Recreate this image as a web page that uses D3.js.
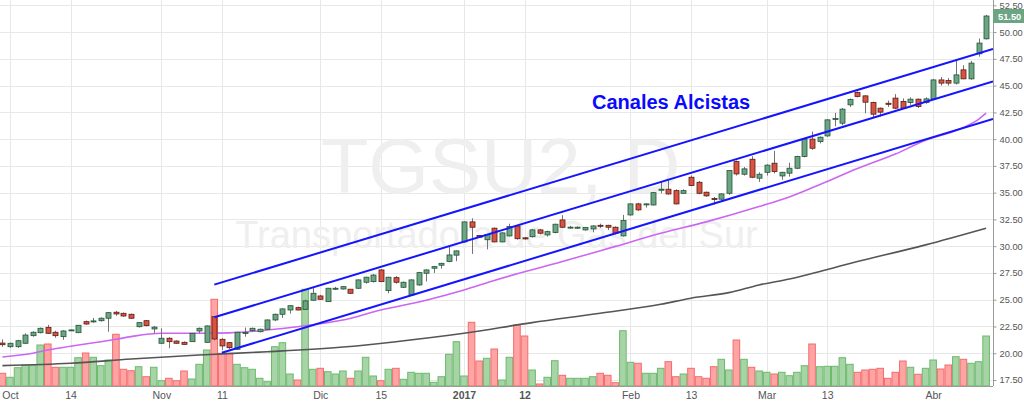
<!DOCTYPE html>
<html>
<head>
<meta charset="utf-8">
<script src="https://cdn.jsdelivr.net/npm/d3@7"></script>
<style>
  html, body { margin: 0; padding: 0; background: #ffffff; }
  svg { display: block; }
</style>
</head>
<body>
<svg id="chart" width="1024" height="402"></svg>
<script>
// ---------------- DATA ----------------
const dates = [
"2016-09-30",
"2016-10-03","2016-10-04","2016-10-05","2016-10-06","2016-10-07","2016-10-11","2016-10-12","2016-10-13","2016-10-14",
"2016-10-17","2016-10-18","2016-10-19","2016-10-20","2016-10-21","2016-10-24","2016-10-25","2016-10-26","2016-10-27","2016-10-28","2016-10-31",
"2016-11-01","2016-11-02","2016-11-03","2016-11-04","2016-11-07","2016-11-08","2016-11-09","2016-11-10","2016-11-11",
"2016-11-14","2016-11-15","2016-11-16","2016-11-17","2016-11-18","2016-11-21","2016-11-22","2016-11-23","2016-11-24","2016-11-25","2016-11-29","2016-11-30",
"2016-12-01","2016-12-02","2016-12-05","2016-12-06","2016-12-07","2016-12-12","2016-12-13","2016-12-14","2016-12-15","2016-12-16",
"2016-12-19","2016-12-20","2016-12-21","2016-12-22","2016-12-23","2016-12-27","2016-12-28","2016-12-29","2016-12-30",
"2017-01-02","2017-01-03","2017-01-04","2017-01-05","2017-01-06","2017-01-09","2017-01-10","2017-01-11","2017-01-12","2017-01-13",
"2017-01-16","2017-01-17","2017-01-18","2017-01-19","2017-01-20","2017-01-23","2017-01-24","2017-01-25","2017-01-26","2017-01-27","2017-01-30","2017-01-31",
"2017-02-01","2017-02-02","2017-02-03","2017-02-06","2017-02-07","2017-02-08","2017-02-09","2017-02-10","2017-02-13","2017-02-14","2017-02-15","2017-02-16","2017-02-17",
"2017-02-20","2017-02-21","2017-02-22","2017-02-23","2017-02-24",
"2017-03-01","2017-03-02","2017-03-03","2017-03-06","2017-03-07","2017-03-08","2017-03-09","2017-03-10","2017-03-13","2017-03-14","2017-03-15","2017-03-16","2017-03-17",
"2017-03-20","2017-03-21","2017-03-22","2017-03-23","2017-03-27","2017-03-28","2017-03-29","2017-03-30","2017-03-31",
"2017-04-03","2017-04-04","2017-04-05","2017-04-06","2017-04-07","2017-04-10","2017-04-11","2017-04-12"
];

const open = [
20.95,
20.61,20.61,20.93,21.64,21.92,22.42,21.96,21.55,22.15,
21.92,22.95,22.98,23.04,23.27,23.83,23.73,23.64,22.48,23.04,22.27,
20.93,21.40,21.14,21.02,21.08,22.08,21.02,23.42,21.30,
20.99,20.37,21.90,22.11,22.01,22.24,23.11,23.64,24.04,24.26,24.10,24.95,
25.35,24.82,26.05,26.00,25.98,26.07,26.63,26.69,27.78,25.85,
27.06,26.16,25.44,26.38,27.47,27.94,28.22,28.56,29.16,
30.40,32.27,30.99,30.60,31.68,30.40,30.96,31.89,30.78,30.89,
31.52,31.05,31.27,32.45,31.75,31.74,31.52,31.61,31.95,31.95,31.77,30.96,
32.92,33.95,33.90,33.85,35.30,35.32,35.19,34.94,36.44,35.97,35.04,34.45,34.39,
34.94,37.90,36.72,38.12,36.35,
36.90,37.75,36.56,36.82,37.28,38.37,40.00,39.77,40.30,41.88,41.49,43.20,44.35,
44.04,43.42,42.89,43.35,43.83,43.51,43.42,43.73,43.42,
43.76,45.53,45.47,45.23,46.47,45.63,47.97,49.37
];
const high = [
21.30,
21.00,21.25,21.85,22.05,22.40,22.65,22.10,22.15,22.20,
22.65,23.05,23.30,23.35,23.85,23.95,23.80,23.70,22.90,23.10,22.55,
22.33,21.50,21.20,21.10,21.90,22.40,22.60,23.45,21.40,
21.05,22.00,22.40,22.40,22.30,23.15,23.70,24.20,24.50,24.35,25.00,26.20,
25.45,26.10,26.20,26.25,26.00,26.90,27.15,27.40,27.85,27.15,
27.20,26.70,26.90,27.60,27.85,28.15,28.45,29.96,29.60,
32.30,32.60,31.05,31.15,31.75,31.30,32.10,32.00,30.85,31.60,
31.60,31.45,32.10,32.90,31.90,31.85,31.80,31.95,32.10,32.00,31.85,32.92,
34.00,34.05,34.00,35.05,36.03,36.19,35.30,35.30,36.60,36.10,35.10,34.60,34.95,
37.10,38.00,37.40,38.40,36.90,
37.65,38.90,36.95,37.80,38.45,40.10,40.70,40.25,41.85,42.45,42.90,43.80,44.45,
44.10,43.50,42.95,43.60,44.20,43.80,43.90,43.80,43.90,
45.60,45.80,45.70,47.40,46.90,47.30,49.40,51.60
];
const low = [
20.60,
20.50,20.50,20.85,21.55,21.85,21.80,21.45,21.25,22.10,
21.90,22.65,22.85,22.95,22.01,23.50,23.40,23.20,22.40,22.50,21.86,
20.85,20.46,20.90,20.80,21.05,21.86,21.00,21.20,20.30,
20.40,20.30,21.55,22.00,21.95,22.20,23.00,23.30,23.70,24.00,24.05,24.90,
25.00,24.80,25.90,25.95,25.55,26.00,26.50,26.60,26.65,25.60,
26.50,26.10,25.40,26.30,26.70,27.50,27.90,28.50,28.60,
30.30,29.28,30.80,29.70,30.35,30.35,30.90,30.60,30.60,30.80,
31.10,30.90,31.20,31.70,31.65,31.65,31.45,31.30,31.70,31.50,31.10,30.90,
32.85,33.30,33.60,33.80,34.94,34.80,33.90,34.90,35.60,34.85,34.60,33.90,34.30,
34.80,36.60,36.60,36.35,36.00,
36.60,36.80,36.20,36.50,37.20,38.30,39.00,39.60,40.20,41.20,41.30,43.00,43.90,
42.42,42.00,42.10,43.00,42.80,42.85,43.20,42.90,43.30,
43.70,45.00,45.00,45.10,45.60,45.55,47.70,49.30
];
const close = [
20.80,
20.93,21.17,21.70,21.96,22.33,21.86,21.64,22.08,22.18,
22.61,22.73,23.02,23.27,23.79,23.67,23.48,23.27,22.86,22.58,22.44,
21.40,21.08,20.93,20.83,21.86,22.33,22.55,21.33,20.68,
20.52,21.96,21.94,22.33,22.24,23.11,23.64,24.14,24.44,24.04,24.89,25.60,
25.04,26.07,26.07,26.22,25.60,26.85,27.10,27.30,26.69,27.10,
26.63,26.63,26.85,27.53,27.78,28.09,28.40,29.18,29.56,
32.27,31.77,30.84,31.10,30.40,31.24,31.83,30.70,30.68,31.52,
31.21,31.36,32.05,31.77,31.78,31.77,31.74,31.89,31.86,31.77,31.21,32.39,
33.95,33.39,33.95,35.00,35.32,34.88,33.95,35.19,35.66,34.94,34.70,34.40,34.88,
37.06,36.75,37.22,36.44,36.72,
37.57,36.97,36.90,37.28,38.37,40.00,39.15,40.18,41.80,41.92,42.80,43.70,43.98,
43.45,42.33,42.52,43.25,42.89,42.89,43.73,43.04,43.76,
45.53,45.23,45.23,46.00,45.63,47.10,48.97,51.50
];
const volume = [
127,
87,183,210,210,410,420,187,187,187,
283,330,287,203,260,517,167,153,193,93,187,
53,77,53,150,70,217,360,867,327,
327,217,183,167,77,43,393,433,120,60,967,167,
177,143,120,150,77,150,287,100,53,167,
177,67,137,127,127,37,93,317,443,
100,637,250,277,370,60,287,610,500,160,
20,87,253,107,77,77,77,93,127,107,33,553,
237,227,127,127,177,243,93,120,177,93,77,193,267,
160,460,267,187,150,
137,120,137,103,137,203,420,193,197,197,283,217,137,
160,167,177,77,137,250,187,117,177,
260,170,210,293,267,227,243,500
];

// moving averages (date, value)
const maFastDates = ["2016-09-30","2016-10-06","2016-10-11","2016-10-14","2016-10-20","2016-10-24","2016-10-26","2016-11-01","2016-11-08","2016-11-14","2016-11-21","2016-11-25","2016-12-06","2016-12-15","2016-12-23","2017-01-02","2017-01-06","2017-01-19","2017-01-30","2017-02-07","2017-02-15","2017-02-24","2017-03-06","2017-03-13","2017-03-17","2017-03-27","2017-03-31","2017-04-06","2017-04-11","2017-04-12"];
const maFastValues = [19.65,20.00,20.30,20.65,21.08,21.30,21.55,21.86,21.86,21.90,22.17,22.48,23.10,24.04,24.95,25.90,26.80,28.56,29.98,31.20,32.27,33.70,34.60,36.05,37.25,38.60,39.90,40.80,41.85,42.42];
const maSlowDates = ["2016-09-30","2016-10-14","2016-10-26","2016-11-08","2016-11-21","2016-12-06","2016-12-19","2017-01-02","2017-01-13","2017-01-26","2017-02-07","2017-02-13","2017-02-20","2017-02-24","2017-03-06","2017-03-17","2017-03-31","2017-04-12"];
const maSlowValues = [18.84,19.06,19.46,19.84,20.14,20.58,21.08,21.86,22.86,23.73,24.57,25.14,25.66,26.38,26.94,28.56,30.12,31.68];

// channel lines (anchor date, price) -> extended to the right edge
const channelStartDates = ["2016-11-10","2016-11-10","2016-11-11"];
const channelStartPrices = [26.41, 23.36, 20.05];
const channelEndDates = ["2017-04-12","2017-04-12","2017-04-12"];
const channelEndPrices = [48.23, 45.19, 41.69];

const xTickDates = ["2016-10-03","2016-10-14","2016-11-01","2016-11-11","2016-12-01","2016-12-15","2017-01-02","2017-01-12","2017-02-01","2017-02-13","2017-03-01","2017-03-13","2017-04-03"];
const xTickLabels = ["Oct","14","Nov","11","Dic","15","2017","12","Feb","13","Mar","13","Abr"];
const yTicks = [17.5,20,22.5,25,27.5,30,32.5,35,37.5,40,42.5,45,47.5,50,52.5];
const lastPrice = 51.50;
const title = "TGSU2, D";
const subtitle = "Transportadora de Gas del Sur";
const annotation = "Canales Alcistas";

// ---------------- DRAW ----------------
const svg = d3.select("#chart");
const W = 1024, H = 402;
const plotR = 993, plotB = 386;

svg.append("rect").attr("width", W).attr("height", H).attr("fill", "#ffffff");

const x = d3.scalePoint().domain(dates).range([2.4, 986.1]);
const y = d3.scaleLinear().domain([17.5, 52.5]).range([380, 5.3]);
const yv = d3.scaleLinear().domain([0, 1000]).range([plotB, plotB - 100]);
const step = x.step();

const plot = svg.append("g");
plot.append("clipPath").attr("id", "clip").append("rect").attr("x", 0).attr("y", 0).attr("width", plotR).attr("height", plotB);

// grid
const grid = plot.append("g");
grid.selectAll("line.h").data(yTicks).join("line")
  .attr("x1", 0).attr("x2", plotR)
  .attr("y1", d => Math.round(y(d)) + 0.5).attr("y2", d => Math.round(y(d)) + 0.5)
  .attr("stroke", "#e8e8e8").attr("stroke-width", 1);
grid.selectAll("line.v").data(xTickDates).join("line")
  .attr("x1", d => Math.round(x(d)) + 0.5).attr("x2", d => Math.round(x(d)) + 0.5)
  .attr("y1", 0).attr("y2", plotB)
  .attr("stroke", "#e8e8e8").attr("stroke-width", 1);

// watermark
plot.append("text").text(title)
  .attr("x", plotR / 2 + 4).attr("y", 193)
  .attr("text-anchor", "middle")
  .attr("font-family", "Liberation Sans, Arial, sans-serif")
  .attr("font-size", 78).attr("fill", "#efefef");
plot.append("text").text(subtitle)
  .attr("x", plotR / 2).attr("y", 248)
  .attr("text-anchor", "middle")
  .attr("font-family", "Liberation Sans, Arial, sans-serif")
  .attr("font-size", 38).attr("fill", "#efefef");

const idx = d3.range(dates.length);
const up = i => close[i] >= open[i];

// volume
const gv = plot.append("g").attr("clip-path", "url(#clip)");
gv.selectAll("rect").data(idx).join("rect")
  .attr("x", i => x(dates[i]) - step / 2 + 0.5)
  .attr("width", step - 1)
  .attr("y", i => yv(volume[i]))
  .attr("height", i => plotB - yv(volume[i]))
  .attr("fill", i => up(i) ? "#a6d4a6" : "#ffa4a4")
  .attr("stroke", i => up(i) ? "#6dba6d" : "#f56b6b")
  .attr("stroke-width", 1);

// moving averages
const gm = plot.append("g").attr("clip-path", "url(#clip)");
const lineGen = d3.line().x(d => x(d[0])).y(d => y(d[1])).curve(d3.curveMonotoneX);
gm.append("path").datum(maSlowDates.map((d, i) => [d, maSlowValues[i]]))
  .attr("d", lineGen).attr("fill", "none").attr("stroke", "#555555").attr("stroke-width", 1.6);
gm.append("path").datum(maFastDates.map((d, i) => [d, maFastValues[i]]))
  .attr("d", lineGen).attr("fill", "none").attr("stroke", "#cc66f2").attr("stroke-width", 1.6);

// candles
const gc = plot.append("g").attr("clip-path", "url(#clip)");
gc.selectAll("line").data(idx).join("line")
  .attr("x1", i => Math.round(x(dates[i])) + 0.5).attr("x2", i => Math.round(x(dates[i])) + 0.5)
  .attr("y1", i => y(high[i])).attr("y2", i => y(low[i]))
  .attr("stroke", "#737373").attr("stroke-width", 1);
gc.selectAll("rect").data(idx).join("rect")
  .attr("x", i => Math.round(x(dates[i])) - 2)
  .attr("width", 5)
  .attr("y", i => y(Math.max(open[i], close[i])))
  .attr("height", i => Math.max(1, Math.abs(y(open[i]) - y(close[i]))))
  .attr("fill", i => up(i) ? "#6ba583" : "#d75442")
  .attr("stroke", i => up(i) ? "#225437" : "#5b1a13")
  .attr("stroke-width", 0.8);

// channel lines
const gl = plot.append("g").attr("clip-path", "url(#clip)");
channelStartDates.forEach((d0, k) => {
  const x0 = x(d0), y0 = y(channelStartPrices[k]);
  const x1 = x(channelEndDates[k]), y1 = y(channelEndPrices[k]);
  const slope = (y1 - y0) / (x1 - x0);
  gl.append("line")
    .attr("x1", x0).attr("y1", y0)
    .attr("x2", plotR).attr("y2", y0 + slope * (plotR - x0))
    .attr("stroke", "#1414ff").attr("stroke-width", 2);
});

// annotation
plot.append("text").text(annotation)
  .attr("x", 592).attr("y", 109)
  .attr("font-family", "Liberation Sans, Arial, sans-serif")
  .attr("font-weight", "bold").attr("font-size", 20)
  .attr("fill", "#0a0aff");

// axes
const yAxis = d3.axisRight(y).tickValues(yTicks).tickFormat(d3.format(".2f")).tickSize(3).tickPadding(3);
const gy = svg.append("g").attr("transform", `translate(${plotR + 0.5},0)`).call(yAxis);
gy.select(".domain").attr("stroke", "#9a9a9a").attr("d", `M0,0V${plotB}`);
gy.selectAll(".tick line").attr("stroke", "#9a9a9a");
gy.selectAll("text").attr("font-family", "Liberation Sans, Arial, sans-serif").attr("font-size", 9.3).attr("fill", "#555");

const xAxis = d3.axisBottom(x).tickValues(xTickDates)
  .tickFormat(d => xTickLabels[xTickDates.indexOf(d)]).tickSize(0).tickPadding(5);
const gx = svg.append("g").attr("transform", `translate(0,${plotB + 0.5})`).call(xAxis);
gx.select(".domain").attr("stroke", "#9a9a9a").attr("d", `M0,0H${plotR}`);
gx.selectAll("text").attr("font-family", "Liberation Sans, Arial, sans-serif").attr("font-size", 10.5).attr("fill", "#555")
  .attr("font-weight", d => d.startsWith("2017-01") ? "bold" : "normal");

// last price label
const lp = svg.append("g").attr("transform", `translate(${plotR},${y(lastPrice)})`);
lp.append("rect").attr("x", 0).attr("y", -7).attr("width", W - plotR).attr("height", 14).attr("fill", "#6ba583");
lp.append("text").text(d3.format(".2f")(lastPrice))
  .attr("x", 5).attr("y", 3.5)
  .attr("font-family", "Liberation Sans, Arial, sans-serif")
  .attr("font-size", 9.3).attr("font-weight", "bold").attr("fill", "#ffffff");
</script>
</body>
</html>
